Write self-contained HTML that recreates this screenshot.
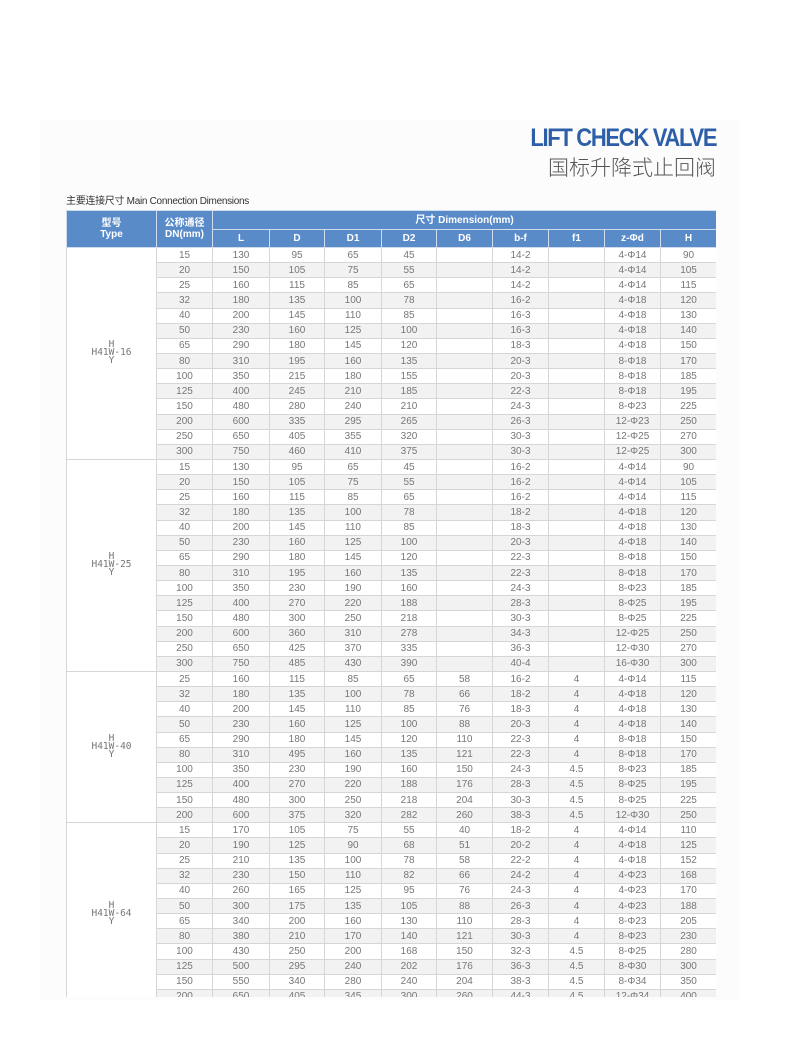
<!DOCTYPE html>
<html><head><meta charset="utf-8"><style>
body{margin:0;width:790px;height:1040px;background:#fff;position:relative;overflow:hidden;font-family:"Liberation Sans","Noto Sans CJK SC",sans-serif}
.bg{position:absolute;left:40px;top:120px;width:700px;height:880px;background:#fcfcfc}
.t1{position:absolute;right:74px;top:124px;font-size:25px;font-weight:bold;color:#2d5ea8;letter-spacing:-1.5px;transform:scaleX(0.88);transform-origin:right}
.t2{position:absolute;right:74px;top:152px;font-size:21px;color:#555;font-family:"Noto Sans CJK SC",sans-serif;font-weight:300}
.cap{position:absolute;left:66px;top:192px;font-size:10px;color:#333;font-family:"Liberation Sans","Noto Sans CJK SC",sans-serif;letter-spacing:-0.3px}
.wrap{position:absolute;left:66px;top:210px;width:650px;height:787px;overflow:hidden}
table{border-collapse:collapse;table-layout:fixed;width:650px;font-size:10px;color:#777}
td{border:1px solid #d6d6d6;text-align:center;padding:0;height:14.15px;line-height:13px;white-space:nowrap}
th{background:#5a8bc9;color:#fff;font-weight:bold;border:1px solid #cfdcee;font-size:10px;padding:0;line-height:11px}
tr.a td{background:#fff}tr.b td{background:#f2f2f2}
td.ty{background:#fff!important;font-family:"DejaVu Sans Mono",monospace;line-height:8px;font-size:9.5px;color:#777}
</style></head><body>
<div class="bg"></div>
<div class="t1">LIFT CHECK VALVE</div>
<div class="t2">国标升降式止回阀</div>
<div class="cap">主要连接尺寸 Main Connection Dimensions</div>
<div class="wrap"><table>
<colgroup><col style="width:90px"><col style="width:56px"><col style="width:57px"><col style="width:55px"><col style="width:57px"><col style="width:55px"><col style="width:56px"><col style="width:56px"><col style="width:56px"><col style="width:56px"><col style="width:56px"></colgroup>
<tr style="height:19px"><th rowspan="2">型号<br>Type</th><th rowspan="2">公称通径<br>DN(mm)</th><th colspan="9">尺寸 Dimension(mm)</th></tr>
<tr style="height:18px"><th>L</th><th>D</th><th>D1</th><th>D2</th><th>D6</th><th>b-f</th><th>f1</th><th>z-Φd</th><th>H</th></tr>
<tr class="a"><td class="ty" rowspan="14">H<br>H41W-16<br>Y</td><td>15</td><td>130</td><td>95</td><td>65</td><td>45</td><td></td><td>14-2</td><td></td><td>4-Φ14</td><td>90</td></tr>
<tr class="b"><td>20</td><td>150</td><td>105</td><td>75</td><td>55</td><td></td><td>14-2</td><td></td><td>4-Φ14</td><td>105</td></tr>
<tr class="a"><td>25</td><td>160</td><td>115</td><td>85</td><td>65</td><td></td><td>14-2</td><td></td><td>4-Φ14</td><td>115</td></tr>
<tr class="b"><td>32</td><td>180</td><td>135</td><td>100</td><td>78</td><td></td><td>16-2</td><td></td><td>4-Φ18</td><td>120</td></tr>
<tr class="a"><td>40</td><td>200</td><td>145</td><td>110</td><td>85</td><td></td><td>16-3</td><td></td><td>4-Φ18</td><td>130</td></tr>
<tr class="b"><td>50</td><td>230</td><td>160</td><td>125</td><td>100</td><td></td><td>16-3</td><td></td><td>4-Φ18</td><td>140</td></tr>
<tr class="a"><td>65</td><td>290</td><td>180</td><td>145</td><td>120</td><td></td><td>18-3</td><td></td><td>4-Φ18</td><td>150</td></tr>
<tr class="b"><td>80</td><td>310</td><td>195</td><td>160</td><td>135</td><td></td><td>20-3</td><td></td><td>8-Φ18</td><td>170</td></tr>
<tr class="a"><td>100</td><td>350</td><td>215</td><td>180</td><td>155</td><td></td><td>20-3</td><td></td><td>8-Φ18</td><td>185</td></tr>
<tr class="b"><td>125</td><td>400</td><td>245</td><td>210</td><td>185</td><td></td><td>22-3</td><td></td><td>8-Φ18</td><td>195</td></tr>
<tr class="a"><td>150</td><td>480</td><td>280</td><td>240</td><td>210</td><td></td><td>24-3</td><td></td><td>8-Φ23</td><td>225</td></tr>
<tr class="b"><td>200</td><td>600</td><td>335</td><td>295</td><td>265</td><td></td><td>26-3</td><td></td><td>12-Φ23</td><td>250</td></tr>
<tr class="a"><td>250</td><td>650</td><td>405</td><td>355</td><td>320</td><td></td><td>30-3</td><td></td><td>12-Φ25</td><td>270</td></tr>
<tr class="b"><td>300</td><td>750</td><td>460</td><td>410</td><td>375</td><td></td><td>30-3</td><td></td><td>12-Φ25</td><td>300</td></tr>
<tr class="a"><td class="ty" rowspan="14">H<br>H41W-25<br>Y</td><td>15</td><td>130</td><td>95</td><td>65</td><td>45</td><td></td><td>16-2</td><td></td><td>4-Φ14</td><td>90</td></tr>
<tr class="b"><td>20</td><td>150</td><td>105</td><td>75</td><td>55</td><td></td><td>16-2</td><td></td><td>4-Φ14</td><td>105</td></tr>
<tr class="a"><td>25</td><td>160</td><td>115</td><td>85</td><td>65</td><td></td><td>16-2</td><td></td><td>4-Φ14</td><td>115</td></tr>
<tr class="b"><td>32</td><td>180</td><td>135</td><td>100</td><td>78</td><td></td><td>18-2</td><td></td><td>4-Φ18</td><td>120</td></tr>
<tr class="a"><td>40</td><td>200</td><td>145</td><td>110</td><td>85</td><td></td><td>18-3</td><td></td><td>4-Φ18</td><td>130</td></tr>
<tr class="b"><td>50</td><td>230</td><td>160</td><td>125</td><td>100</td><td></td><td>20-3</td><td></td><td>4-Φ18</td><td>140</td></tr>
<tr class="a"><td>65</td><td>290</td><td>180</td><td>145</td><td>120</td><td></td><td>22-3</td><td></td><td>8-Φ18</td><td>150</td></tr>
<tr class="b"><td>80</td><td>310</td><td>195</td><td>160</td><td>135</td><td></td><td>22-3</td><td></td><td>8-Φ18</td><td>170</td></tr>
<tr class="a"><td>100</td><td>350</td><td>230</td><td>190</td><td>160</td><td></td><td>24-3</td><td></td><td>8-Φ23</td><td>185</td></tr>
<tr class="b"><td>125</td><td>400</td><td>270</td><td>220</td><td>188</td><td></td><td>28-3</td><td></td><td>8-Φ25</td><td>195</td></tr>
<tr class="a"><td>150</td><td>480</td><td>300</td><td>250</td><td>218</td><td></td><td>30-3</td><td></td><td>8-Φ25</td><td>225</td></tr>
<tr class="b"><td>200</td><td>600</td><td>360</td><td>310</td><td>278</td><td></td><td>34-3</td><td></td><td>12-Φ25</td><td>250</td></tr>
<tr class="a"><td>250</td><td>650</td><td>425</td><td>370</td><td>335</td><td></td><td>36-3</td><td></td><td>12-Φ30</td><td>270</td></tr>
<tr class="b"><td>300</td><td>750</td><td>485</td><td>430</td><td>390</td><td></td><td>40-4</td><td></td><td>16-Φ30</td><td>300</td></tr>
<tr class="a"><td class="ty" rowspan="10">H<br>H41W-40<br>Y</td><td>25</td><td>160</td><td>115</td><td>85</td><td>65</td><td>58</td><td>16-2</td><td>4</td><td>4-Φ14</td><td>115</td></tr>
<tr class="b"><td>32</td><td>180</td><td>135</td><td>100</td><td>78</td><td>66</td><td>18-2</td><td>4</td><td>4-Φ18</td><td>120</td></tr>
<tr class="a"><td>40</td><td>200</td><td>145</td><td>110</td><td>85</td><td>76</td><td>18-3</td><td>4</td><td>4-Φ18</td><td>130</td></tr>
<tr class="b"><td>50</td><td>230</td><td>160</td><td>125</td><td>100</td><td>88</td><td>20-3</td><td>4</td><td>4-Φ18</td><td>140</td></tr>
<tr class="a"><td>65</td><td>290</td><td>180</td><td>145</td><td>120</td><td>110</td><td>22-3</td><td>4</td><td>8-Φ18</td><td>150</td></tr>
<tr class="b"><td>80</td><td>310</td><td>495</td><td>160</td><td>135</td><td>121</td><td>22-3</td><td>4</td><td>8-Φ18</td><td>170</td></tr>
<tr class="a"><td>100</td><td>350</td><td>230</td><td>190</td><td>160</td><td>150</td><td>24-3</td><td>4.5</td><td>8-Φ23</td><td>185</td></tr>
<tr class="b"><td>125</td><td>400</td><td>270</td><td>220</td><td>188</td><td>176</td><td>28-3</td><td>4.5</td><td>8-Φ25</td><td>195</td></tr>
<tr class="a"><td>150</td><td>480</td><td>300</td><td>250</td><td>218</td><td>204</td><td>30-3</td><td>4.5</td><td>8-Φ25</td><td>225</td></tr>
<tr class="b"><td>200</td><td>600</td><td>375</td><td>320</td><td>282</td><td>260</td><td>38-3</td><td>4.5</td><td>12-Φ30</td><td>250</td></tr>
<tr class="a"><td class="ty" rowspan="12">H<br>H41W-64<br>Y</td><td>15</td><td>170</td><td>105</td><td>75</td><td>55</td><td>40</td><td>18-2</td><td>4</td><td>4-Φ14</td><td>110</td></tr>
<tr class="b"><td>20</td><td>190</td><td>125</td><td>90</td><td>68</td><td>51</td><td>20-2</td><td>4</td><td>4-Φ18</td><td>125</td></tr>
<tr class="a"><td>25</td><td>210</td><td>135</td><td>100</td><td>78</td><td>58</td><td>22-2</td><td>4</td><td>4-Φ18</td><td>152</td></tr>
<tr class="b"><td>32</td><td>230</td><td>150</td><td>110</td><td>82</td><td>66</td><td>24-2</td><td>4</td><td>4-Φ23</td><td>168</td></tr>
<tr class="a"><td>40</td><td>260</td><td>165</td><td>125</td><td>95</td><td>76</td><td>24-3</td><td>4</td><td>4-Φ23</td><td>170</td></tr>
<tr class="b"><td>50</td><td>300</td><td>175</td><td>135</td><td>105</td><td>88</td><td>26-3</td><td>4</td><td>4-Φ23</td><td>188</td></tr>
<tr class="a"><td>65</td><td>340</td><td>200</td><td>160</td><td>130</td><td>110</td><td>28-3</td><td>4</td><td>8-Φ23</td><td>205</td></tr>
<tr class="b"><td>80</td><td>380</td><td>210</td><td>170</td><td>140</td><td>121</td><td>30-3</td><td>4</td><td>8-Φ23</td><td>230</td></tr>
<tr class="a"><td>100</td><td>430</td><td>250</td><td>200</td><td>168</td><td>150</td><td>32-3</td><td>4.5</td><td>8-Φ25</td><td>280</td></tr>
<tr class="b"><td>125</td><td>500</td><td>295</td><td>240</td><td>202</td><td>176</td><td>36-3</td><td>4.5</td><td>8-Φ30</td><td>300</td></tr>
<tr class="a"><td>150</td><td>550</td><td>340</td><td>280</td><td>240</td><td>204</td><td>38-3</td><td>4.5</td><td>8-Φ34</td><td>350</td></tr>
<tr class="b"><td>200</td><td>650</td><td>405</td><td>345</td><td>300</td><td>260</td><td>44-3</td><td>4.5</td><td>12-Φ34</td><td>400</td></tr>
</table></div>
</body></html>
